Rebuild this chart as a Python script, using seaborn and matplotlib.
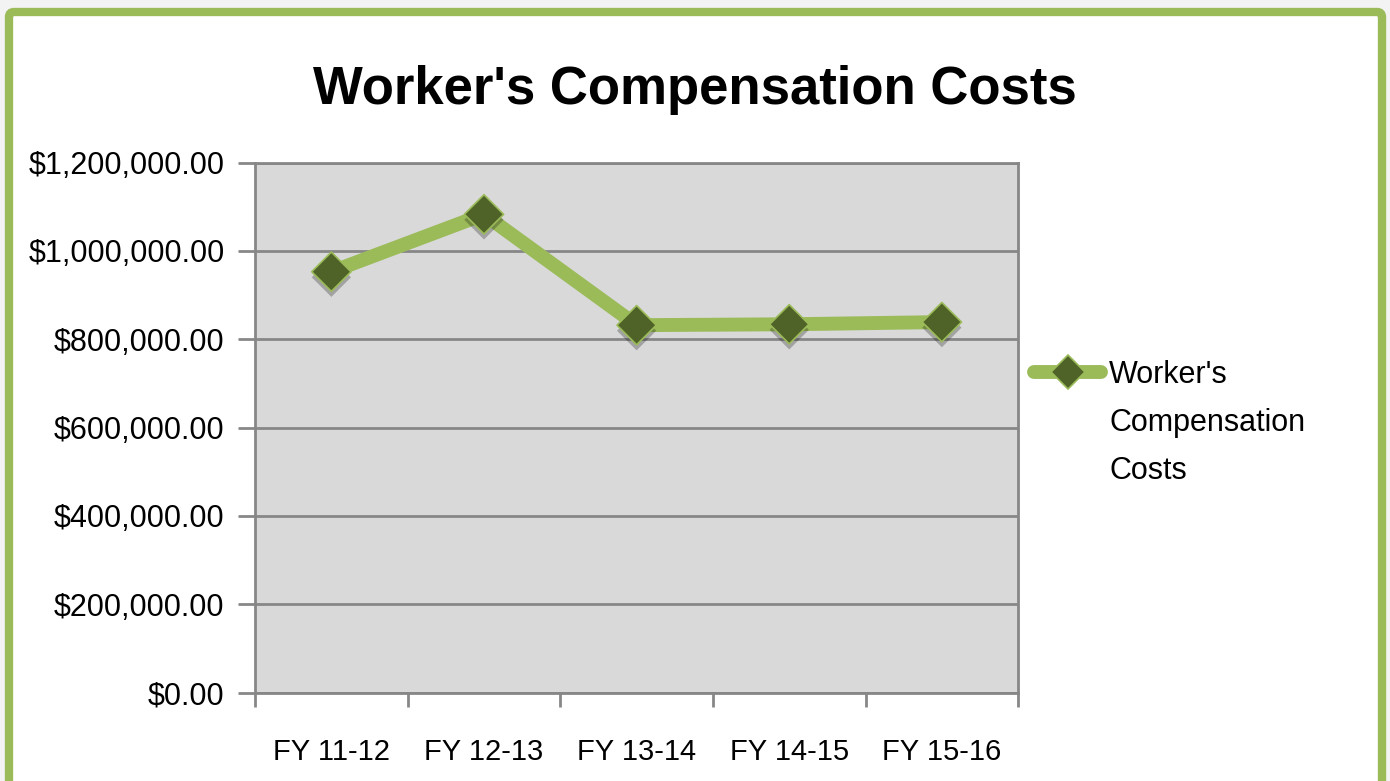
import matplotlib
matplotlib.use("Agg")
import matplotlib.pyplot as plt
import matplotlib.patheffects as pe
from matplotlib.patches import FancyBboxPatch
from matplotlib.ticker import FuncFormatter, FixedLocator
import pandas as pd
import seaborn as sns

# data
years = ["FY 11-12", "FY 12-13", "FY 13-14", "FY 14-15", "FY 15-16"]
costs = [953000, 1083000, 832000, 834000, 839000]
series_lines = ["Worker's", "Compensation", "Costs"]
title = "Worker's Compensation Costs"

df = pd.DataFrame({"pos": range(len(years)), "year": years, "cost": costs})

sns.set_style("white")
plt.rcParams['font.family'] = ['Liberation Sans', 'DejaVu Sans']
plt.rcParams['text.color'] = 'black'
plt.rcParams['xtick.color'] = 'black'
plt.rcParams['ytick.color'] = 'black'

GREEN = "#9bbb59"
DARK = "#4f6228"
GRID = "#878787"

fig = plt.figure(figsize=(13.9, 7.81), dpi=100)
fig.patch.set_facecolor("#f3f3f3")

# green frame around the chart, in a background axes
bg = fig.add_axes([0, 0, 1, 1], zorder=-5)
bg.set_xlim(0, 1390)
bg.set_ylim(781, 0)
bg.axis("off")
bg.add_patch(FancyBboxPatch((9, 12), 1373, 800, boxstyle="round,pad=0,rounding_size=5",
                            facecolor="white", edgecolor=GREEN, linewidth=6))

ax = fig.add_axes([0.1835, 0.1133, 0.549, 0.6784])
ax.set_facecolor("#d9d9d9")

sns.lineplot(data=df, x="pos", y="cost", ax=ax, color=GREEN, linewidth=10,
             solid_capstyle="round", label=series_lines[0], zorder=3,
             marker="D", markersize=17, markerfacecolor=DARK,
             markeredgecolor=GREEN, markeredgewidth=1.2)
# markers again on top with a soft shadow
sns.scatterplot(data=df, x="pos", y="cost", ax=ax, marker="D", s=400,
                color=DARK, edgecolor=GREEN, linewidth=1.2, zorder=4,
                legend=False)
ax.collections[-1].set_path_effects([pe.SimplePatchShadow(offset=(0, -4), shadow_rgbFace="black", alpha=0.25), pe.Normal()])

ax.set_xlim(-0.5, len(years) - 0.5)
ax.set_ylim(0, 1200000)
ax.set_yticks(range(0, 1200001, 200000))
ax.yaxis.set_major_formatter(FuncFormatter(lambda v, p: "${:,.2f}".format(v)))
ax.yaxis.grid(True, color=GRID, linewidth=2)
ax.set_axisbelow(True)

ax.xaxis.set_major_locator(FixedLocator([i - 0.5 for i in range(len(years) + 1)]))
ax.xaxis.set_minor_locator(FixedLocator(list(range(len(years)))))
ax.set_xticklabels([], minor=False)
ax.set_xticklabels(years, minor=True)
ax.tick_params(axis="x", which="major", length=10, width=2, color=GRID, direction="out", bottom=True)
ax.tick_params(axis="x", which="minor", length=0, pad=33, labelsize=21)
ax.tick_params(axis="y", length=12, width=2, color=GRID, direction="out", left=True, labelsize=22, pad=10)

for s in ax.spines.values():
    s.set_color(GRID)
    s.set_linewidth(2)

ax.set_xlabel("")
ax.set_ylabel("")

fig.text(0.5, 0.885, title, ha="center", va="center", fontsize=38, fontweight="bold")

leg = ax.legend(loc="center left", bbox_to_anchor=(1.005, 1 - (375 - 162.7) / 530), frameon=False,
                fontsize=22, handlelength=2.2, handletextpad=0.25, borderaxespad=0)

# remaining legend lines placed under the first one
fig.canvas.draw()
bb = leg.get_texts()[0].get_window_extent()
x0 = bb.x0 / fig.bbox.width
for i, line in enumerate(series_lines[1:], start=1):
    y = (bb.y0 - 48 * i) / fig.bbox.height
    fig.text(x0, y, line, fontsize=22, ha="left", va="bottom")

fig.savefig("out.png", dpi=100, facecolor=fig.get_facecolor())
